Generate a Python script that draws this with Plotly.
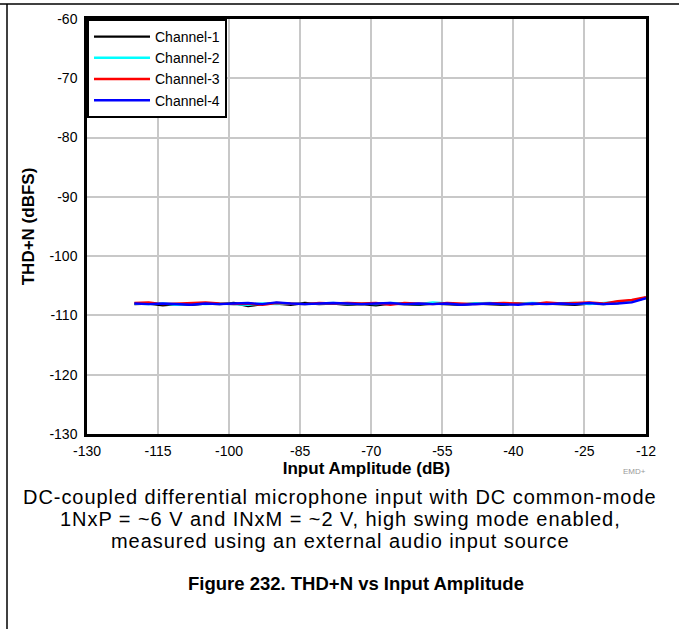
import plotly.graph_objects as go

x_db = [-120, -117, -114, -111, -108, -105, -102, -99, -96, -93, -90, -87, -84,
        -81, -78, -75, -72, -69, -66, -63, -60, -57, -54, -51, -48, -45, -42,
        -39, -36, -33, -30, -27, -24, -21, -18, -15, -12]

ch1 = [-108.1, -108.0, -108.3, -108.1, -108.2, -108.0, -108.1, -107.9, -108.4, -108.1,
       -108.0, -108.2, -107.9, -108.1, -108.0, -108.2, -108.1, -108.3, -108.0, -108.1,
       -108.2, -108.0, -108.1, -108.2, -108.0, -108.1, -108.2, -108.0, -108.1, -108.0,
       -108.1, -108.2, -108.0, -108.1, -107.9, -107.6, -107.0]
ch2 = [-108.0, -108.1, -108.0, -108.2, -108.0, -108.1, -108.0, -108.1, -108.2, -108.0,
       -108.1, -108.0, -108.1, -108.0, -107.9, -108.1, -108.0, -108.1, -107.9, -108.0,
       -108.1, -107.8, -108.0, -108.1, -108.0, -107.9, -108.1, -108.0, -107.9, -108.0,
       -108.0, -107.9, -108.1, -107.9, -107.8, -107.5, -107.0]
ch3 = [-107.9, -107.8, -108.1, -108.0, -107.9, -107.8, -108.0, -108.1, -108.0, -108.2,
       -107.9, -108.0, -108.1, -107.9, -108.0, -107.9, -108.0, -107.9, -108.2, -107.9,
       -108.0, -108.1, -107.9, -108.0, -108.1, -108.0, -107.9, -108.0, -108.1, -107.8,
       -108.0, -107.9, -107.8, -108.0, -107.6, -107.4, -106.9]
ch4 = [-108.0, -108.1, -108.0, -108.1, -108.2, -108.0, -108.1, -108.0, -107.9, -108.1,
       -107.8, -108.0, -108.1, -108.0, -107.9, -108.0, -108.1, -108.0, -107.9, -108.1,
       -108.0, -108.1, -108.0, -108.2, -108.1, -108.0, -108.1, -108.2, -108.0, -108.1,
       -108.0, -108.1, -107.9, -108.1, -108.0, -107.8, -107.1]

names = ["Channel-1", "Channel-2", "Channel-3", "Channel-4"]
colors = ["#000000", "#00FFFF", "#FF0000", "#0000FF"]
series = [ch1, ch2, ch3, ch4]

x_ticks = [-130, -115, -100, -85, -70, -55, -40, -25, -12]
y_ticks = [-130, -120, -110, -100, -90, -80, -70, -60]

FONT = "Arial, Liberation Sans, sans-serif"

fig = go.Figure()
for nm, col, ys in zip(names, colors, series):
    fig.add_trace(go.Scatter(x=x_db, y=ys, mode="lines", name=nm,
                             line=dict(color=col, width=2.4)))

# plot area in px: left 87, right 646, top 19, bottom 434
L, R, T, B = 87, 646, 19, 434
W, H = 679, 629
pw, ph = R - L, B - T

def px(xp):
    return (xp - L) / pw

def py(yp):
    return (B - yp) / ph

fig.update_layout(
    width=W, height=H,
    margin=dict(l=L, r=W - R, t=T, b=H - B, pad=0),
    paper_bgcolor="white", plot_bgcolor="white",
    font=dict(family=FONT, size=14, color="black"),
    showlegend=True,
    legend=dict(x=0, y=1, xanchor="left", yanchor="top",
                bordercolor="black", borderwidth=2, bgcolor="white",
                font=dict(size=14), tracegroupgap=0, itemwidth=56,
                traceorder="normal"),
    xaxis=dict(range=[-130, -12], tickvals=x_ticks, ticktext=[str(v) for v in x_ticks],
               showgrid=True, gridcolor="#C8C8C8", gridwidth=1.5,
               showline=True, linecolor="black", linewidth=2.5, mirror=True,
               ticks="", zeroline=False, tickfont=dict(size=14), ticklabelstandoff=2,
               title=dict(text="<b>Input Amplitude (dB)</b>", font=dict(size=17), standoff=2)),
    yaxis=dict(range=[-130, -60], tickvals=y_ticks, ticktext=[str(v) for v in y_ticks],
               showgrid=True, gridcolor="#C8C8C8", gridwidth=1.5,
               showline=True, linecolor="black", linewidth=2.5, mirror=True,
               ticks="", zeroline=False, tickfont=dict(size=14), ticklabelstandoff=4,
               title=dict(text="<b>THD+N (dBFS)</b>", font=dict(size=17), standoff=11)),
)

# page frame lines
fig.add_shape(type="line", xref="paper", yref="paper",
              x0=px(0), x1=px(W), y0=py(4), y1=py(4),
              line=dict(color="black", width=1.5))
fig.add_shape(type="line", xref="paper", yref="paper",
              x0=px(7), x1=px(7), y0=py(4), y1=py(H),
              line=dict(color="black", width=1.5))

fig.add_annotation(text="EMD+", xref="paper", yref="paper", x=px(648), y=py(478),
                   showarrow=False, font=dict(size=8, color="#999999"))

caption = ["DC-coupled differential microphone input with DC common-mode",
           "1NxP = ~6 V and INxM = ~2 V, high swing mode enabled,",
           "measured using an external audio input source"]
for i, line in enumerate(caption):
    fig.add_annotation(text='<span style="letter-spacing:0.95px">' + line + "</span>",
                       xref="paper", yref="paper", x=px(340), y=py(497 + 22 * i),
                       showarrow=False, font=dict(size=20), xanchor="center", yanchor="middle")

fig.add_annotation(text="<b>Figure 232. THD+N vs Input Amplitude</b>", xref="paper", yref="paper",
                   x=px(356), y=py(583), showarrow=False, font=dict(size=18.5),
                   xanchor="center", yanchor="middle")

fig.write_html("out.html", config={"displayModeBar": False},
               post_script="document.body.style.margin='0';")
